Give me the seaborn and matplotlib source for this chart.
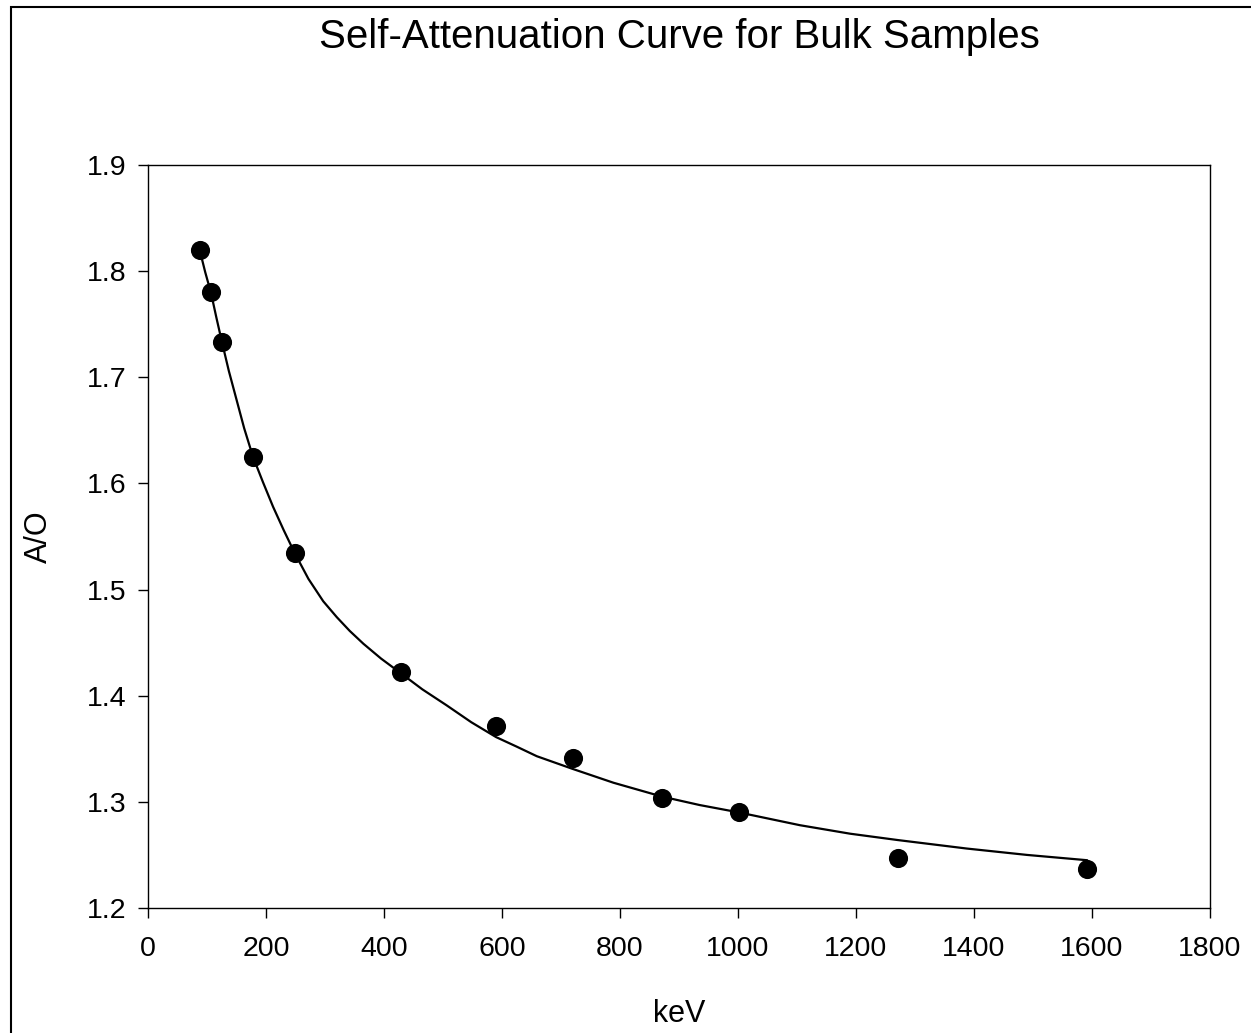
import matplotlib
matplotlib.use("Agg")
import matplotlib.pyplot as plt
import seaborn as sns
import pandas as pd
from matplotlib.patches import Rectangle

# Measured points
energy_kev = [88, 107, 125, 178, 249, 429, 590, 720, 871, 1002, 1271, 1592]
ratio_ao = [1.820, 1.780, 1.733, 1.625, 1.534, 1.422, 1.371, 1.341, 1.304, 1.290, 1.247, 1.237]

# Fitted curve
fit_kev = [88, 97, 107, 116, 125, 137, 150, 163, 178, 195, 212, 230, 249, 272, 297, 320,
           342, 365, 395, 429, 465, 506, 548, 590, 625, 659, 720, 789, 871, 935, 1002,
           1105, 1190, 1271, 1388, 1490, 1592]
fit_ao = [1.819, 1.799, 1.779, 1.756, 1.734, 1.706, 1.679, 1.652, 1.625, 1.601, 1.578, 1.556,
          1.534, 1.510, 1.489, 1.474, 1.461, 1.449, 1.435, 1.421, 1.406, 1.391, 1.375, 1.361,
          1.352, 1.343, 1.331, 1.318, 1.305, 1.297, 1.290, 1.278, 1.270, 1.264, 1.256, 1.250,
          1.245]

xticks = [0, 200, 400, 600, 800, 1000, 1200, 1400, 1600, 1800]
yticks = [1.2, 1.3, 1.4, 1.5, 1.6, 1.7, 1.8, 1.9]

sns.set_theme(style="white")
plt.rcParams['font.family'] = ['Liberation Sans', 'DejaVu Sans']

fig = plt.figure(figsize=(12.51, 10.33), dpi=100)
ax = fig.add_axes([148/1251, 1 - 908/1033, (1210-148)/1251, (908-165)/1033])

pts = pd.DataFrame({"keV": energy_kev, "A/O": ratio_ao})
fit = pd.DataFrame({"keV": fit_kev, "A/O": fit_ao})

sns.lineplot(data=fit, x="keV", y="A/O", ax=ax, color="black", linewidth=1.6,
             estimator=None, sort=True)
sns.scatterplot(data=pts, x="keV", y="A/O", ax=ax, color="black", s=190,
                edgecolor="black", linewidth=0, zorder=3)

ax.set_xlim(0, 1800)
ax.set_ylim(1.2, 1.9)
ax.set_xticks(xticks)
ax.set_yticks(yticks)
ax.set_xticklabels([str(t) for t in xticks])
ax.set_yticklabels([f"{t:.1f}" for t in yticks])
ax.tick_params(axis="both", which="major", direction="out", length=7.5, width=1.0,
               color="black", labelsize=20.5, labelcolor="black",
               bottom=True, left=True)
ax.tick_params(axis="x", pad=13)
ax.tick_params(axis="y", pad=8)
for sp in ax.spines.values():
    sp.set_color("black")
    sp.set_linewidth(1.0)
    sp.set_visible(True)

ax.set_xlabel("keV", fontsize=22, color="black", labelpad=26)
ax.set_ylabel("A/O", fontsize=22, color="black", labelpad=24)
ax.set_title("Self-Attenuation Curve for Bulk Samples", fontsize=29, color="black", pad=84)

# Figure frame (left/top edges visible)
fig.patches.append(Rectangle((11/1251, -0.05), 1.2, 1 - 7/1033 + 0.05, transform=fig.transFigure,
                             fill=False, edgecolor="black", linewidth=1.5, zorder=0))

fig.savefig("out.png", dpi=100)
